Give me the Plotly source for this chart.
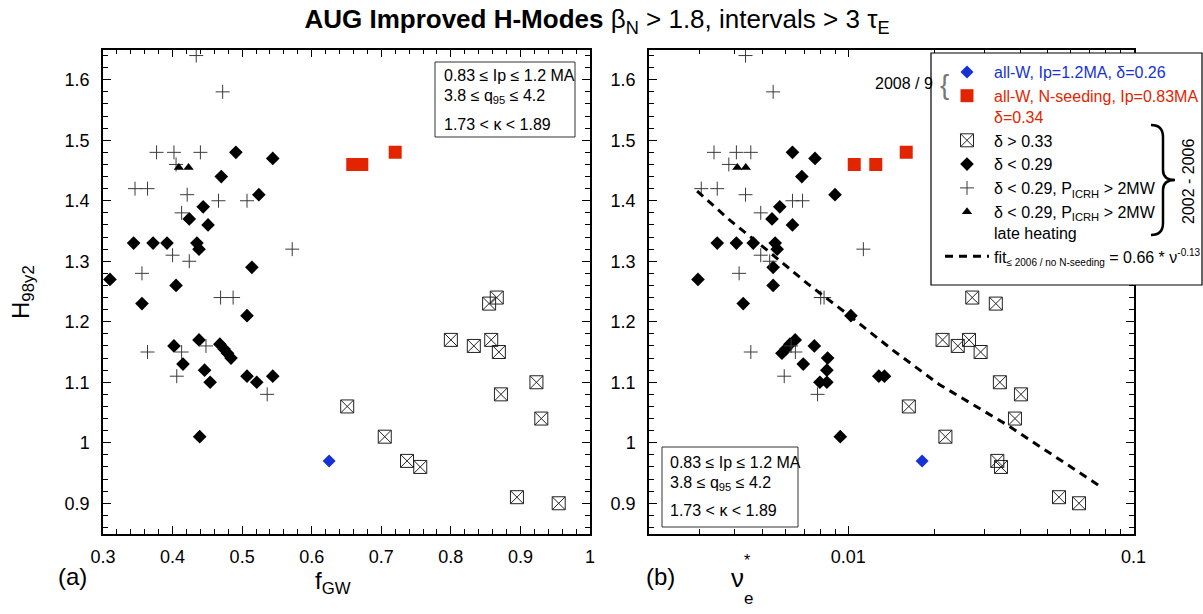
import math
import plotly.graph_objects as go

# ---------------- data ----------------
# delta > 0.33 (square with x)
sq_fgw = [0.866, 0.855, 0.800, 0.858, 0.833, 0.869, 0.923, 0.872, 0.930, 0.651, 0.705, 0.737, 0.756, 0.895, 0.955]
sq_nu = [0.0272, 0.0329, 0.0214, 0.0265, 0.0242, 0.0291, 0.0340, 0.0403, 0.0384, 0.0163, 0.0219, 0.0333, 0.0343, 0.0548, 0.0644]
sq_H = [1.24, 1.23, 1.17, 1.17, 1.16, 1.15, 1.10, 1.08, 1.04, 1.06, 1.01, 0.97, 0.96, 0.91, 0.90]

# delta < 0.29 (filled diamond)
di_fgw = [0.491, 0.544, 0.470, 0.524, 0.444, 0.424, 0.451, 0.344, 0.372, 0.392, 0.435, 0.438, 0.514, 0.310, 0.405,
          0.356, 0.507, 0.402, 0.438, 0.468, 0.474, 0.479, 0.484, 0.415, 0.446, 0.454, 0.521, 0.507, 0.544, 0.439]
di_nu = [0.00637, 0.00764, 0.00687, 0.00898, 0.00575, 0.00540, 0.00637, 0.00347, 0.00405, 0.00464, 0.00554, 0.00563, 0.00545, 0.00297, 0.00545,
         0.00428, 0.01021, 0.00760, 0.00651, 0.00624, 0.00604, 0.00585, 0.00846, 0.00695, 0.00841, 0.00795, 0.00841, 0.01279, 0.01339, 0.00937]
di_H = [1.48, 1.47, 1.44, 1.41, 1.39, 1.37, 1.36, 1.33, 1.33, 1.33, 1.33, 1.32, 1.29, 1.27, 1.26,
        1.23, 1.21, 1.16, 1.17, 1.163, 1.155, 1.148, 1.14, 1.13, 1.12, 1.10, 1.10, 1.11, 1.11, 1.01]

# delta < 0.29, P_ICRH > 2MW (cross)
cr_fgw = [0.434, 0.472, 0.377, 0.402, 0.440, 0.405, 0.346, 0.364, 0.421, 0.466, 0.507, 0.413, 0.572, 0.400, 0.424,
          0.356, 0.469, 0.487, 0.364, 0.413, 0.448, 0.406, 0.536]
cr_nu = [0.00436, 0.00545, 0.00338, 0.00405, 0.00455, 0.00381, 0.00305, 0.00347, 0.00436, 0.00637, 0.00691, 0.00493, 0.01129, 0.00493, 0.00530,
         0.00414, 0.00800, 0.00822, 0.00455, 0.00652, 0.00630, 0.00596, 0.00780]
cr_H = [1.64, 1.58, 1.48, 1.48, 1.48, 1.46, 1.42, 1.42, 1.41, 1.40, 1.40, 1.38, 1.32, 1.31, 1.30,
        1.28, 1.24, 1.24, 1.15, 1.15, 1.16, 1.11, 1.08]

# delta < 0.29, P_ICRH > 2MW, late heating (triangle)
tr_fgw = [0.409, 0.423]
tr_nu = [0.00408, 0.00437]
tr_H = [1.455, 1.455]

# 2008/9 all-W, Ip=1.2MA (blue diamond)
bl_fgw = [0.625]
bl_nu = [0.01815]
bl_H = [0.97]

# 2008/9 all-W, N-seeding (red square)
rd_fgw = [0.659, 0.672, 0.720]
rd_nu = [0.01049, 0.01248, 0.01596]
rd_H = [1.46, 1.46, 1.48]

# fit curve
fit_nu = [0.00295, 0.00386, 0.00514, 0.00719, 0.01022, 0.01432, 0.0209, 0.0359, 0.0753]
fit_H = [1.416, 1.367, 1.320, 1.263, 1.208, 1.153, 1.096, 1.030, 0.930]

fgw_ticks = [0.3, 0.4, 0.5, 0.6, 0.7, 0.8, 0.9, 1.0]
nu_ticks = [0.01, 0.1]
nu_minor = [0.003, 0.004, 0.005, 0.006, 0.007, 0.008, 0.009,
            0.02, 0.03, 0.04, 0.05, 0.06, 0.07, 0.08, 0.09]
H_ticks = [0.9, 1.0, 1.1, 1.2, 1.3, 1.4, 1.5, 1.6]

# ---------------- styling ----------------
W, HH = 1203, 614
FONT = "Liberation Sans, Arial, sans-serif"
BLUE = "#1632d6"
RED = "#e32400"


def PX(x):
    return x / W


def PY(y):
    return 1 - y / HH


fig = go.Figure()

sets = [
    ("<span style='color:%s'>all-W, Ip=1.2MA, δ=0.26</span>" % BLUE, bl_fgw, bl_nu, bl_H,
     dict(symbol="diamond", size=10, color=BLUE, line=dict(width=0))),
    ("<span style='color:%s'>all-W, N-seeding, Ip=0.83MA<br>δ=0.34</span>" % RED, rd_fgw, rd_nu, rd_H,
     dict(symbol="square", size=13, color=RED, line=dict(width=0))),
    ("δ > 0.33", sq_fgw, sq_nu, sq_H,
     dict(symbol="square-x-open", size=13, color="#222222", line=dict(width=1, color="#222222"))),
    ("δ < 0.29", di_fgw, di_nu, di_H,
     dict(symbol="diamond", size=10.5, color="black", line=dict(width=0))),
    ("δ < 0.29, P<sub>ICRH</sub> > 2MW", cr_fgw, cr_nu, cr_H,
     dict(symbol="cross-thin-open", size=10, color="#3a3a3a", line=dict(width=1, color="#3a3a3a"))),
    ("δ < 0.29, P<sub>ICRH</sub> > 2MW<br>late heating", tr_fgw, tr_nu, tr_H,
     dict(symbol="triangle-up", size=9, color="black", line=dict(width=0))),
]

for name, fx, nx, hy, mk in sets:
    fig.add_trace(go.Scatter(x=fx, y=hy, mode="markers", marker=mk, name=name,
                             xaxis="x", yaxis="y", showlegend=True, hoverinfo="skip"))
    fig.add_trace(go.Scatter(x=nx, y=hy, mode="markers", marker=mk, name=name,
                             xaxis="x2", yaxis="y2", showlegend=False, hoverinfo="skip"))

fig.add_trace(go.Scatter(x=fit_nu, y=fit_H, mode="lines", xaxis="x2", yaxis="y2",
                         line=dict(color="black", width=3, dash="8px,6px"),
                         name="fit<sub><span style='font-size:10px'>≤ 2006 / no N-seeding</span></sub>"
                              " = 0.66 * ν<sup><span style='font-size:10px'>-0.13</span></sup>",
                         showlegend=True, hoverinfo="skip"))

ax_common = dict(showline=True, linecolor="black", linewidth=1.5, mirror="allticks",
                 ticks="inside", ticklen=8, tickwidth=1, tickcolor="black",
                 showgrid=False, zeroline=False,
                 tickfont=dict(family=FONT, size=18, color="black"))

ydom = [PY(533.5), PY(49.5)]

fig.update_layout(
    width=W, height=HH,
    margin=dict(l=0, r=0, t=0, b=0, autoexpand=False),
    paper_bgcolor="white", plot_bgcolor="white",
    font=dict(family=FONT, color="black"),
    showlegend=True,
    xaxis=dict(domain=[PX(103), PX(590)], range=[0.3, 1.0], tickvals=fgw_ticks,
               ticktext=["0.3", "0.4", "0.5", "0.6", "0.7", "0.8", "0.9", "1"],
               minor=dict(dtick=0.02, tick0=0.3, ticks="inside", ticklen=5, tickcolor="black"),
               anchor="y", ticklabelstandoff=6, **ax_common),
    yaxis=dict(domain=ydom, range=[0.85, 1.65], tickvals=H_ticks,
               ticktext=["0.9", "1", "1.1", "1.2", "1.3", "1.4", "1.5", "1.6"],
               minor=dict(dtick=0.02, tick0=0.9, ticks="inside", ticklen=5, tickcolor="black"),
               anchor="x", ticklabelstandoff=8, **ax_common),
    xaxis2=dict(domain=[PX(649), PX(1133.5)], type="log", range=[math.log10(0.002), -1],
                tickvals=nu_ticks, ticktext=["0.01", "0.1"],
                minor=dict(tickvals=nu_minor, ticks="inside", ticklen=5, tickcolor="black"),
                anchor="y2", ticklabelstandoff=6, **ax_common),
    yaxis2=dict(domain=ydom, range=[0.85, 1.65], tickvals=H_ticks,
                ticktext=["0.9", "1", "1.1", "1.2", "1.3", "1.4", "1.5", "1.6"],
                minor=dict(dtick=0.02, tick0=0.9, ticks="inside", ticklen=5, tickcolor="black"),
                anchor="x2", ticklabelstandoff=8, **ax_common),
    legend=dict(x=PX(940), y=PY(55), xanchor="left", yanchor="top",
                bgcolor="rgba(0,0,0,0)", borderwidth=0, itemwidth=44, valign="top",
                tracegroupgap=0, font=dict(family=FONT, size=16, color="black")),
    title=dict(text="<b>AUG Improved H-Modes</b> β<sub>N</sub> > 1.8, intervals > 3 τ<sub>E</sub>",
               x=PX(597), xanchor="center", y=PY(19), yanchor="middle",
               font=dict(family=FONT, size=26, color="black")),
)

shapes = []
# legend frame
shapes.append(dict(type="rect", xref="paper", yref="paper", x0=PX(931), x1=PX(1202), y0=PY(285), y1=PY(53),
                   line=dict(color="black", width=1.2), fillcolor="white", layer="above"))
# condition boxes
shapes.append(dict(type="rect", xref="paper", yref="paper", x0=PX(435), x1=PX(575), y0=PY(137), y1=PY(62),
                   line=dict(color="#333", width=1), fillcolor="white", layer="above"))
shapes.append(dict(type="rect", xref="paper", yref="paper", x0=PX(662), x1=PX(798), y0=PY(527), y1=PY(447),
                   line=dict(color="#333", width=1), fillcolor="white", layer="above"))
# big brace "}"
pts = "M {a},{b} Q {c},{b} {c},{d} L {c},{e} Q {c},{f} {g},{f} Q {c},{f} {c},{h} L {c},{i} Q {c},{j} {a},{j}"
bx0, bx1, bx2 = 1151, 1163, 1175
path = pts.format(a=PX(bx0), b=PY(125), c=PX(bx1), d=PY(137), e=PY(170), f=PY(180), g=PX(bx2),
                  h=PY(190), i=PY(223), j=PY(235))
shapes.append(dict(type="path", xref="paper", yref="paper", path=path,
                   line=dict(color="black", width=2.5), layer="above"))
fig.update_layout(shapes=shapes)


def ann(x, y, text, size=16, xanchor="center", yanchor="middle", color="black", angle=0):
    fig.add_annotation(x=PX(x), y=PY(y), xref="paper", yref="paper", text=text, showarrow=False,
                       xanchor=xanchor, yanchor=yanchor, textangle=angle,
                       font=dict(family=FONT, size=size, color=color))


# condition text
for bx, ys in ((442, (75, 95, 125)), (668, (462, 481, 510))):
    ann(bx, ys[0], "0.83 ≤ Ip ≤ 1.2 MA", xanchor="left")
    ann(bx, ys[1] + 2, "3.8 ≤ q<sub>95</sub> ≤ 4.2", xanchor="left")
    ann(bx, ys[2], "1.73 < κ < 1.89", xanchor="left")

ann(935, 83, "2008 / 9", xanchor="right")
ann(944, 84, "{", size=28, color="#777777")
ann(1188, 181, "2002 - 2006", angle=-90)

# axis titles and panel labels
ann(22, 292, "H<sub>98y2</sub>", size=24, angle=-90)
ann(333, 582, "f<sub>GW</sub>", size=24)
ann(72, 576, "(a)", size=24)
ann(660, 576, "(b)", size=24)
ann(737, 578, "ν", size=26)
ann(747, 560, "*", size=16)
ann(748, 598, "e", size=17)

fig.write_html("out.html")
